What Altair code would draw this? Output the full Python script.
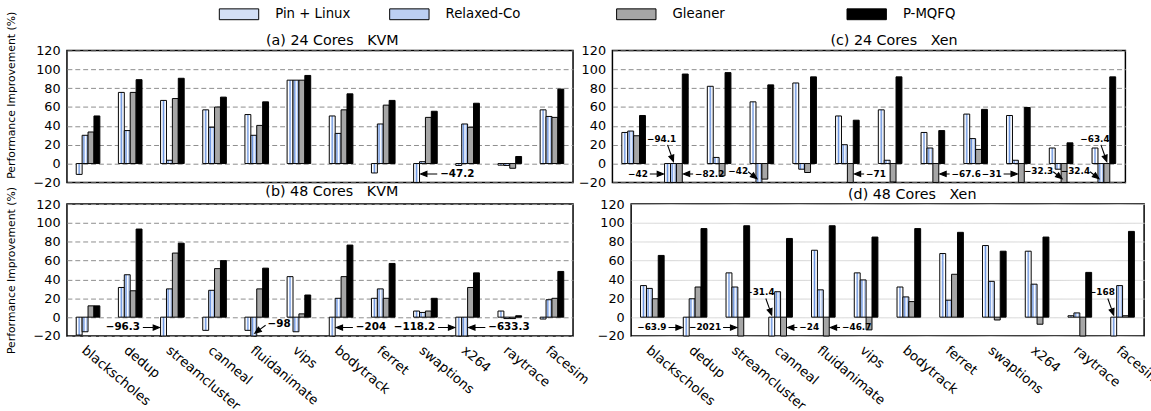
import altair as alt
import pandas as pd

FONT = "DejaVu Sans"

BENCHMARKS = ["blackscholes", "dedup", "streamcluster", "canneal", "fluidanimate",
              "vips", "bodytrack", "ferret", "swaptions", "x264", "raytrace", "facesim"]
SERIES = ["Pin + Linux", "Relaxed-Co", "Gleaner", "P-MQFQ"]
Y_TICKS = [-20, 0, 20, 40, 60, 80, 100, 120]

# (a) 24 Cores KVM
A_PIN = [-11.5, 75.5, 67, 57, 52, 88.5, 50.5, -10, -47.2, -2, -1.7, 57]
A_REL = [30, 35, 3.5, 38.5, 30, 88.5, 32, 42, 2, 42, -2, 50]
A_GLE = [33.5, 75.5, 69, 60, 40.5, 88.5, 57, 62, 49, 38.5, -5, 49]
A_PMQ = [50.5, 89, 90.5, 70.5, 65.5, 93.5, 74, 67, 55.5, 64, 7.5, 79]
# (b) 48 Cores KVM
B_PIN = [-19, 31.5, -96.3, -14, -14, 43, -204, 20, 6.5, -118.2, 6.5, -2]
B_REL = [-15.5, 45, 30, 28.5, -98, -15.5, 20, 30, 5, -633.3, -1.5, 18.5]
B_GLE = [12, 28, 68, 51.5, 30, 3.5, 43, 20, 6.5, 31.5, -1.5, 20]
B_PMQ = [12, 93.5, 78.5, 60, 52, 23.5, 76.5, 57, 20, 47, 1.5, 48.5]
# (c) 24 Cores Xen
C_PIN = [33, -42, 82, 65.5, 85.5, 50.5, 57, 33, 52.5, 51, 16.5, 16.5]
C_REL = [34.5, -94.1, 6.5, -42, -6, 20, 3.5, 16.5, 26.5, 3.5, -6, -32.4]
C_GLE = [29.5, -82.2, -13, -16.5, -9.5, -71, -19.5, -67.6, 15, -31, -32.3, -63.4]
C_PMQ = [51, 95, 96.5, 83.5, 92, 46, 92, 35, 57.5, 59.5, 22, 92]
# (d) 48 Cores Xen
D_PIN = [33.5, -63.9, 47, -31.4, 71, 47, 32, 67.5, 76, 70, 1.5, -168]
D_REL = [30.5, 19.5, 32, 27, 29, 39.5, 21.5, 18, 38, 35, 4.5, 33.5]
D_GLE = [19.5, 32, -2021, -24, -46.7, -13.5, 16.5, 45.5, -3, -7.5, -20, 1.5]
D_PMQ = [65.5, 94, 97, 83.5, 97, 85, 94, 90, 70, 85, 47.5, 91]

# where the label of each off-scale bar sits relative to its bar
ANNOT_DIR = {
    ("a", "swaptions", "Pin + Linux"): "R",
    ("b", "streamcluster", "Pin + Linux"): "L",
    ("b", "fluidanimate", "Relaxed-Co"): "DR",
    ("b", "bodytrack", "Pin + Linux"): "R",
    ("b", "x264", "Pin + Linux"): "L",
    ("b", "x264", "Relaxed-Co"): "R",
    ("c", "dedup", "Pin + Linux"): "L",
    ("c", "dedup", "Relaxed-Co"): "U",
    ("c", "dedup", "Gleaner"): "R",
    ("c", "canneal", "Relaxed-Co"): "DL",
    ("c", "vips", "Gleaner"): "R",
    ("c", "ferret", "Gleaner"): "R",
    ("c", "x264", "Gleaner"): "L",
    ("c", "raytrace", "Gleaner"): "DL",
    ("c", "facesim", "Relaxed-Co"): "DL",
    ("c", "facesim", "Gleaner"): "U",
    ("d", "dedup", "Pin + Linux"): "L",
    ("d", "streamcluster", "Gleaner"): "L",
    ("d", "canneal", "Pin + Linux"): "U",
    ("d", "canneal", "Gleaner"): "R",
    ("d", "fluidanimate", "Gleaner"): "R",
    ("d", "facesim", "Pin + Linux"): "U",
}

NB = "\u00a0"
PANELS = {
    "a": ("(a) 24 Cores" + NB * 3 + "KVM", [A_PIN, A_REL, A_GLE, A_PMQ]),
    "b": ("(b) 48 Cores" + NB * 3 + "KVM", [B_PIN, B_REL, B_GLE, B_PMQ]),
    "c": ("(c) 24 Cores" + NB * 3 + "Xen", [C_PIN, C_REL, C_GLE, C_PMQ]),
    "d": ("(d) 48 Cores" + NB * 3 + "Xen", [D_PIN, D_REL, D_GLE, D_PMQ]),
}

LEGEND_COLORS = ["#d3dff5", "#bccff2", "#a6a6a6", "#000000"]


def grad(stops):
    return {"gradient": "linear", "x1": 0, "y1": 0, "x2": 1, "y2": 0,
            "stops": [{"offset": o, "color": c} for o, c in stops]}


GRADS = [
    grad([(0, "#ffffff"), (0.25, "#ffffff"), (0.5, "#6a93de"), (0.75, "#ffffff"), (1, "#ffffff")]),
    grad([(0, "#ffffff"), (0.3, "#6a93de"), (0.55, "#ffffff"), (0.8, "#9db8eb"), (1, "#ffffff")]),
    None,
    None,
]

# legend entries: which panel hosts each one, and its anchor inside that panel
LEGEND_HOST = ["a", "a", "c", "c"]
LEGEND_X = [168, 341, 17.5, 251.5]
LEGEND_Y = -43.5
RECT = "M-20,-5.5H20V5.5H-20Z"


def arrow_path(sx, sy, tx, ty, hl=6.5, hw=2.6):
    dx, dy = tx - sx, ty - sy
    ln = (dx * dx + dy * dy) ** 0.5
    ux, uy = dx / ln, dy / ln
    bx, by = tx - hl * ux, ty - hl * uy
    px, py = -uy * hw, ux * hw
    return (f"M{tx:.2f},{ty:.2f}L{bx + px:.2f},{by + py:.2f}L{bx - px:.2f},{by - py:.2f}Z"
            f"M{bx:.2f},{by:.2f}L{sx:.2f},{sy:.2f}")


STYLE_BIG = {
    "R": dict(y=-11, tip=(4, 0), start=(21, 0), dx=24, dy=0, align="left", baseline="middle"),
    "L": dict(y=-11, tip=(-4, 0), start=(-21, 0), dx=-24, dy=0, align="right", baseline="middle"),
    "DR": dict(y=-17, tip=(1, 0), start=(12, -8), dx=14, dy=-9, align="left", baseline="middle"),
}
STYLE_SMALL = {
    "R": dict(y=-11, tip=(4, 0), start=(14, 0), dx=16, dy=0, align="left", baseline="middle"),
    "L": dict(y=-11, tip=(-4, 0), start=(-18, 0), dx=-20, dy=0, align="right", baseline="middle"),
    "U": dict(y=0, tip=(0, -2), start=(-6, -19), dx=-12, dy=-20, align="center", baseline="bottom"),
    "DL": dict(y=-16, tip=(-2, 0), start=(-11, -7), dx=-11, dy=-8, align="right", baseline="middle"),
}

TITLE_STYLE = dict(fontSize=14.5, fontWeight="normal", font=FONT, color="black")


def make_panel(key, width, left, bottom, title_dx, title_offset, grid_dash, grid_color,
               afont, styles):
    title, vals = PANELS[key]

    xscale = alt.Scale(domain=BENCHMARKS, paddingInner=0.44, paddingOuter=0.22)
    oscale = alt.Scale(domain=SERIES, paddingInner=0, paddingOuter=0)
    yscale = alt.Scale(domain=[-20, 120], clamp=True, nice=False, zero=False)

    if bottom:
        xaxis = alt.Axis(labelAngle=40, labelAlign="left", labelBaseline="top",
                         labelFontSize=13.5, labelFont=FONT, labelColor="black",
                         ticks=False, domain=False, labelPadding=7, title=None, grid=False)
    else:
        # top panels carry their caption as a top axis title, below the legend
        xaxis = alt.Axis(orient="top", labels=False, ticks=False, domain=False, grid=False,
                         title=title, titleFontSize=14.5, titleFontWeight="normal",
                         titleFont=FONT, titleColor="black", titlePadding=3,
                         titleX=width / 2 + title_dx, titleAlign="center")

    yaxis_kw = dict(values=Y_TICKS, grid=True, gridDash=grid_dash, gridColor=grid_color,
                    gridWidth=1, ticks=False, domain=False, labelFontSize=13,
                    labelFont=FONT, labelColor="black", labelPadding=7,
                    labelOverlap=False, labelFlush=False, labelSeparation=0)
    if left:
        yaxis_kw.update(title="Performance Improvement (%)", titleFontSize=11,
                        titleFont=FONT, titleFontWeight="normal", titleColor="black",
                        titlePadding=17)
        if key == "a":
            yaxis_kw.update(titleY=45)
    else:
        yaxis_kw.update(title=None)
    yaxis = alt.Axis(**yaxis_kw)

    def xenc():
        return alt.X("benchmark:N", scale=xscale, axis=xaxis)

    def oenc():
        return alt.XOffset("series:N", scale=oscale)

    layers = []
    for i, (s, arr) in enumerate(zip(SERIES, vals)):
        fld = f"legend_{i}"
        df = pd.DataFrame({"benchmark": BENCHMARKS, "series": s, "value": arr, fld: s})
        if LEGEND_HOST[i] == key:
            leg = alt.Legend(
                title=None, orient="none", legendX=LEGEND_X[i], legendY=LEGEND_Y,
                symbolType=RECT, symbolSize=4, symbolStrokeColor="black",
                symbolStrokeWidth=1, symbolOpacity=1, labelFontSize=13.5, labelFont=FONT,
                labelColor="black", labelOffset=30, labelLimit=300, padding=0,
            )
        else:
            leg = None
        fkw = dict(scale=alt.Scale(domain=[s], range=[LEGEND_COLORS[i]]), legend=leg)
        if GRADS[i] is not None:
            fkw["condition"] = {"test": "true", "value": GRADS[i]}
        layers.append(
            alt.Chart(df).mark_bar(stroke="black", strokeWidth=1).encode(
                x=xenc(), xOffset=oenc(),
                y=alt.Y("value:Q", scale=yscale, axis=yaxis),
                y2=alt.datum(0),
                fill=alt.Fill(f"{fld}:N", **fkw),
            )
        )

    arows = []
    for (k, b, s), kind in ANNOT_DIR.items():
        if k != key:
            continue
        v = vals[SERIES.index(s)][BENCHMARKS.index(b)]
        arows.append({"benchmark": b, "series": s, "value": v, "kind": kind})
    adf = pd.DataFrame(arows)
    for kind, st in styles.items():
        if kind not in set(adf["kind"]):
            continue
        base = alt.Chart(adf).transform_filter(alt.datum.kind == kind)
        enc = dict(x=xenc(), xOffset=oenc(),
                   y=alt.YDatum(st["y"], scale=yscale, axis=yaxis))
        txt = base.mark_text(
            dx=st["dx"], dy=st["dy"], align=st["align"], baseline=st["baseline"],
            fontSize=afont, fontWeight="bold", font=FONT, color="black",
        ).encode(text=alt.Text("value:Q", format=".1~f"), **enc)
        arr = base.mark_point(
            shape=arrow_path(*st["start"], *st["tip"]), size=4, filled=True,
            fill="black", stroke="black", strokeWidth=1.1, opacity=1,
        ).encode(**enc)
        layers += [arr, txt]

    chart = alt.layer(*layers).resolve_scale(fill="independent").properties(
        width=width, height=134)
    if bottom:
        chart = chart.properties(
            title=alt.TitleParams(text=title, offset=title_offset, dx=title_dx,
                                  anchor="middle", frame="group", **TITLE_STYLE))
    return chart


DASH = [5, 3]
pa = make_panel("a", 514, True, False, 12, 0, DASH, "#8c8c8c", 10.5, STYLE_BIG)
pc = make_panel("c", 521, False, False, 25, 0, DASH, "#8c8c8c", 9, STYLE_SMALL)
pb = make_panel("b", 514, True, True, 12, -13.5, DASH, "#8c8c8c", 10.5, STYLE_BIG)
pd_ = make_panel("d", 521, False, True, 25, -4.5, [1, 0], "#d4d4d4", 9, STYLE_SMALL)

top = alt.hconcat(pa, pc, spacing=3)
bot = alt.hconcat(pb, pd_, spacing=3)

chart = alt.vconcat(top, bot, spacing=-7).properties(
    padding={"left": 4, "top": 3, "right": -12, "bottom": 0},
    background="white",
).configure(font=FONT).configure_view(stroke="black", strokeWidth=1.5)

chart.save("out.html", embed_options={"renderer": "svg", "actions": False})
